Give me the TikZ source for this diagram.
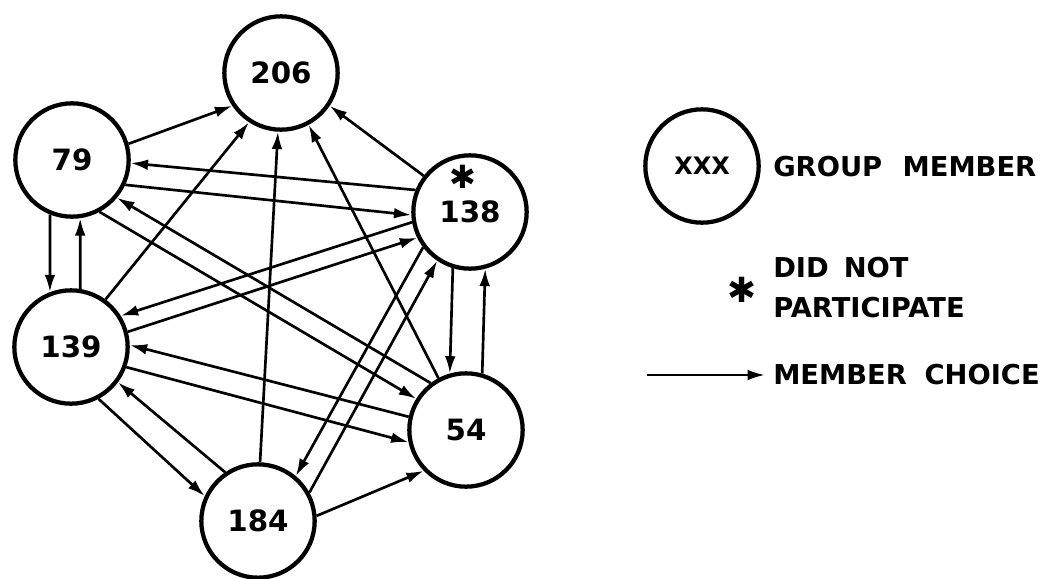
\documentclass[tikz,border=0pt]{standalone}
\usepackage{fontspec}
\setmainfont{DejaVu Sans}
\usetikzlibrary{arrows.meta}
\tikzstyle{choice} = [line width=2pt, -{Latex[length=13pt,width=8pt]}]

\begin{document}
\begin{tikzpicture}[x=0.75pt, y=-0.75pt,
    member/.style={circle, draw=black, line width=3.2pt, minimum size=85pt, inner sep=0pt, font=\fontsize{22}{24}\selectfont\bfseries},
    legend/.style={anchor=west, inner sep=0pt, inner xsep=6pt, align=left, font=\fontsize{20.5}{30}\selectfont\bfseries}]
    \useasboundingbox (0,0) rectangle (1044,578);
    \node[member] (m206) at (281,73)  {206};
    \node[member] (m79)  at (72,160)  {79};
    \node[member] (m138) at (470,212) {138};
    \node[member] (m139) at (71,347)  {139};
    \node[member] (m54)  at (466,430) {54};
    \node[member] (m184) at (258,521) {184};
    \node[font=\fontsize{24}{24}\selectfont] (skip) at (463,177) {✱};
    % choices
    \draw[choice] (m79.16) -- (m206.214);
    \draw[choice] (m139.54) -- (m206.237);
    \draw[choice] (m184.88) -- (m206.267);
    \draw[choice] (m54.118) -- (m206.298);
    \draw[choice] (m138.142) -- (m206.326);
    \draw[choice] (m138.158) -- (m79.357);
    \draw[choice] (m79.335) -- (m138.183);
    \draw[choice] (m79.248) -- (m139.111);
    \draw[choice] (m139.81) -- (m79.278);
    \draw[choice] (m79.298) -- (m54.148);
    \draw[choice] (m54.127) -- (m79.320);
    \draw[choice] (m138.190) -- (m139.32);
    \draw[choice] (m139.15) -- (m138.206);
    \draw[choice] (m54.167) -- (m139.2);
    \draw[choice] (m139.340) -- (m54.192);
    \draw[choice] (m139.298) -- (m184.155);
    \draw[choice] (m184.124) -- (m139.323);
    \draw[choice] (m184.5) -- (m54.224);
    \draw[choice] (m138.217) -- (m184.50);
    \draw[choice] (m184.29) -- (m138.236);
    \draw[choice] (m138.253) -- (m54.106);
    \draw[choice] (m54.74) -- (m138.285);
    % key
    \node[member, font=\fontsize{18}{20}\selectfont\bfseries] (key) at (702,166) {XXX};
    \node[legend] (keytext) at (765,167) {GROUP\hspace{.4em} MEMBER};
    \node[font=\fontsize{26}{26}\selectfont] (keystar) at (742,290) {✱};
    \node[legend] (startext) at (765,288) {DID\hspace{.2em} NOT\\PARTICIPATE};
    \coordinate (tail) at (647,375);
    \node[legend] (choicetext) at (765,375) {MEMBER\hspace{.3em} CHOICE};
    \draw[choice] (tail) -- (choicetext.west);
\end{tikzpicture}
\end{document}
